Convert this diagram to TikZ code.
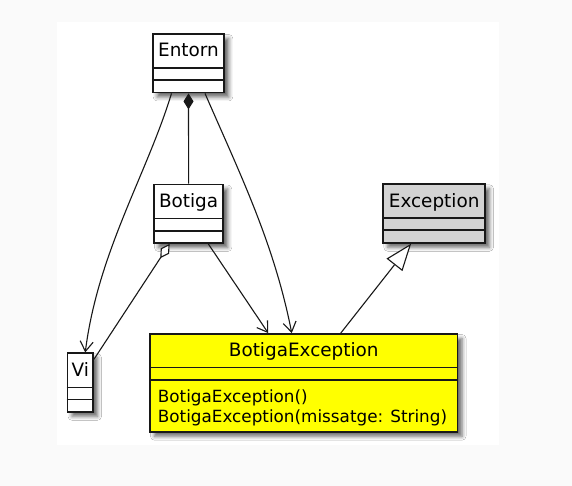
\documentclass[tikz,border=0pt]{standalone}
\usepackage{fontspec}
\setmainfont{DejaVu Sans}
\usetikzlibrary{shapes,arrows.meta,shadows.blur}

\definecolor{pagegray}{RGB}{250,250,250}
\definecolor{excgray}{RGB}{211,211,211}
\definecolor{excyellow}{RGB}{255,255,0}
\definecolor{umlline}{RGB}{24,24,24}

\tikzset{
	umlclass/.style={draw=umlline, line width=1.8pt, fill=white, inner sep=0pt,
		blur shadow={shadow xshift=4.5pt, shadow yshift=-4.5pt, shadow blur radius=4pt, shadow opacity=60}},
	classname/.style={anchor=base, inner sep=0pt, font=\fontsize{18.4}{22}\selectfont},
	methodname/.style={anchor=base west, inner sep=0pt, font=\fontsize{16.8}{19.5}\selectfont},
	compart/.style={draw=umlline, line width=1.8pt},
	assoc/.style={draw=umlline, line width=1.1pt, -{Straight Barb[length=10pt,width=13pt]}},
	composition/.style={draw=umlline, line width=1.1pt, {Diamond[length=16pt,width=10pt,fill=umlline]}-},
	aggregation/.style={draw=umlline, line width=1.1pt, {Diamond[length=17pt,width=10pt,fill=white]}-},
	generalization/.style={draw=umlline, line width=1.1pt, -{Triangle[length=27pt,width=20pt,fill=white]}}
}

\begin{document}
\begin{tikzpicture}[x=1pt,y=-1pt]
		\useasboundingbox (0,0) rectangle (572,486);
		\fill[pagegray] (0,0) rectangle (572,486);
		\fill[white] (57,22) rectangle (499,445);
		% classes
		\node[umlclass, minimum width=71.6pt, minimum height=58.5pt] (entorn) at (188.5,63.25) {};
		\node[umlclass, minimum width=69.3pt, minimum height=58.5pt] (botiga) at (188.6,213.75) {};
		\node[umlclass, fill=excgray, minimum width=101.7pt, minimum height=58.5pt] (exception) at (434.15,213.5) {};
		\node[umlclass, minimum width=25.5pt, minimum height=58.5pt] (vi) at (80.25,382.55) {};
		\node[umlclass, fill=excyellow, minimum width=307.5pt, minimum height=97.7pt] (botexc) at (303.75,382.85) {};
		\foreach \cls in {entorn,botiga,exception,vi}
			\draw[compart] ([yshift=-35pt]\cls.north west) -- ([yshift=-35pt]\cls.north east)
				([yshift=-47pt]\cls.north west) -- ([yshift=-47pt]\cls.north east);
		\draw[compart] ([yshift=-34.3pt]botexc.north west) -- ([yshift=-34.3pt]botexc.north east)
			([yshift=-47pt]botexc.north west) -- ([yshift=-47pt]botexc.north east);
		% names and methods
		\node[classname] (entorn-name) at ([yshift=-23.7pt]entorn.north) {Entorn};
		\node[classname] (botiga-name) at ([yshift=-23.7pt]botiga.north) {Botiga};
		\node[classname] (exception-name) at ([yshift=-23.7pt]exception.north) {Exception};
		\node[classname] (vi-name) at ([yshift=-23.7pt]vi.north) {Vi};
		\node[classname] (botexc-name) at ([yshift=-23.7pt]botexc.north) {BotigaException};
		\node[methodname] (botexc-m1) at (157.7,402.5) {BotigaException()};
		\node[methodname] (botexc-m2) at (157.7,422) {BotigaException(missatge: String)};
		% relations
		\draw[composition] (entorn.south) -- (botiga.north);
		\draw[assoc] ([xshift=-17pt]entorn.south) .. controls (147,174) and (98,252) .. ([xshift=5pt]vi.north);
		\draw[assoc] ([xshift=16.5pt]entorn.south) .. controls (240,174) and (274,243) .. ([xshift=-12pt]botexc.north);
		\draw[aggregation] ([xshift=-19pt]botiga.south) -- ([yshift=-7pt]vi.north east);
		\draw[assoc] ([xshift=19.7pt]botiga.south) -- ([xshift=-35.5pt]botexc.north);
		\draw[generalization] ([xshift=37pt]botexc.north) -- ([xshift=-23pt]exception.south);
\end{tikzpicture}
\end{document}
